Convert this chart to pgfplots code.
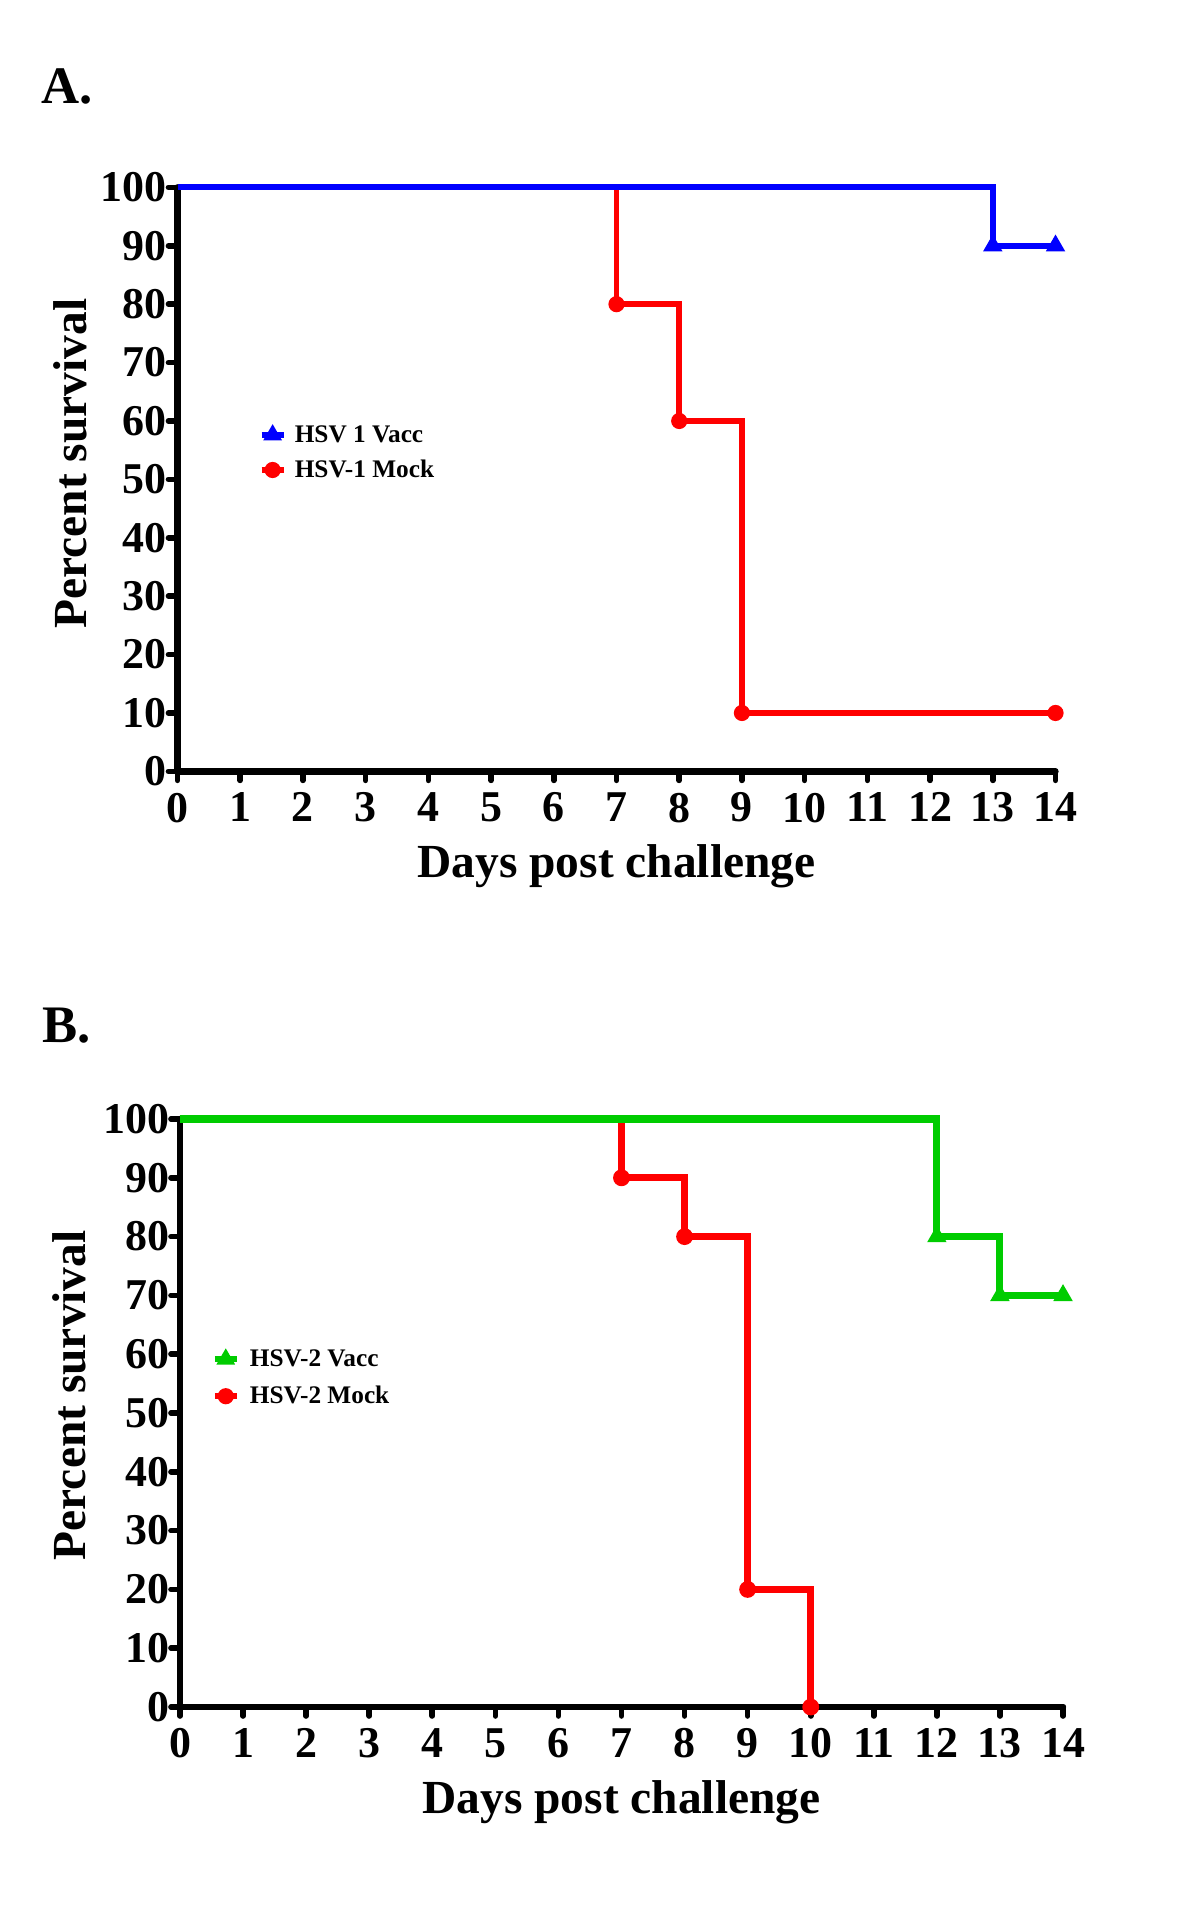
\documentclass[border=0pt]{standalone}
\usepackage{fontspec}
\setmainfont{Liberation Serif}
\usepackage{pgfplots}
\pgfplotsset{compat=1.18}
\definecolor{myblue}{RGB}{0,0,255}
\definecolor{myred}{RGB}{255,0,0}
\definecolor{mygreen}{RGB}{0,204,0}
\pgfplotsset{
 surv/.style={
  scale only axis, axis lines*=left,
  xmin=0, xmax=14, ymin=0, ymax=100,
  xtick={0,...,14}, ytick={0,10,...,100},
  tick align=outside, major tick length=0.09cm,
  every tick/.style={black, line width=1.6pt, line cap=round},
  axis line style={line width=1.8pt, line cap=round},
  tick label style={font=\fontsize{12.5}{14}\selectfont\bfseries},
  /pgf/number format/assume math mode=true,
  yticklabel style={inner xsep=0pt, xshift=-0.01cm},
  xticklabel style={yshift=0.0cm},
  label style={font=\fontsize{13.5}{15}\selectfont\bfseries},
  xlabel={Days post challenge}, ylabel={Percent survival},
  xlabel style={anchor=center, at={(axis description cs:0.5,0)}, yshift=-0.95cm},
  clip=false,
  legend cell align=left,
  legend image code/.code={\draw[##1,mark=none] (0cm,0cm) -- (0.22cm,0cm);
     \draw[##1] plot coordinates {(0.11cm,0cm)};},
 }
}
\begin{document}
\begin{tikzpicture}
\path (0,0) rectangle (12,19.2);
\node[font=\fontsize{15}{17}\selectfont\bfseries] at (0.67,18.34) {A.};
\node[font=\fontsize{15}{17}\selectfont\bfseries] at (0.67,8.94) {B.};
\begin{axis}[surv, at={(1.775cm,11.486cm)}, anchor=south west, width=8.78cm, height=5.84cm,
  ylabel style={anchor=center, at={(axis description cs:-0.122,0.527)}},
  legend style={draw=none, fill=none, at={(axis cs:1.28,54.6)}, anchor=west, inner sep=0pt,
   font=\fontsize{7.2}{8}\selectfont\bfseries,
   nodes={inner xsep=0pt, inner ysep=0.02cm, text height=0.2cm, text depth=0.05cm},
   row sep=0.06cm, /tikz/every odd column/.append style={column sep=0.08cm}}]
\addlegendimage{myblue, line width=1.7pt, mark=triangle*, mark size=2.7pt, mark options={line width=0.4pt}}
\addlegendentry{HSV 1 Vacc}
\addlegendimage{myred, line width=1.8pt, mark=*, mark size=2.1pt, mark options={line width=0.4pt}}
\addlegendentry{HSV-1 Mock}
\addplot[const plot, myred, line width=1.7pt, forget plot] coordinates {(0,100)(7,80)(8,60)(9,10)(14,10)};
\addplot[only marks, myred, mark=*, mark size=2.1pt, forget plot] coordinates {(7,80)(8,60)(9,10)(14,10)};
\addplot[const plot, myblue, line width=1.7pt, forget plot] coordinates {(0,100)(13,90)(14,90)};
\addplot[only marks, myblue, mark=triangle*, mark size=2.8pt, forget plot] coordinates {(13,90)(14,90)};
\end{axis}
\begin{axis}[surv, at={(1.80cm,2.13cm)}, anchor=south west, width=8.83cm, height=5.88cm,
  ylabel style={anchor=center, at={(axis description cs:-0.125,0.53)}},
  legend style={draw=none, fill=none, at={(axis cs:0.49,56.0)}, anchor=west, inner sep=0pt,
   font=\fontsize{7.2}{8}\selectfont\bfseries,
   nodes={inner xsep=0pt, inner ysep=0.02cm, text height=0.2cm, text depth=0.05cm},
   row sep=0.08cm, /tikz/every odd column/.append style={column sep=0.1cm}}]
\addlegendimage{mygreen, line width=1.8pt, mark=triangle*, mark size=2.7pt, mark options={line width=0.4pt}}
\addlegendentry{HSV-2 Vacc}
\addlegendimage{myred, line width=1.8pt, mark=*, mark size=2.1pt, mark options={line width=0.4pt}}
\addlegendentry{HSV-2 Mock}
\addplot[const plot, myred, line width=2pt, forget plot] coordinates {(0,100)(7,90)(8,80)(9,20)(10,0)};
\addplot[only marks, myred, mark=*, mark size=2.2pt, forget plot] coordinates {(7,90)(8,80)(9,20)(10,0)};
\addplot[const plot, mygreen, line width=2pt, forget plot] coordinates {(0,100)(12,80)(13,70)(14,70)};
\addplot[only marks, mygreen, mark=triangle*, mark size=2.8pt, forget plot] coordinates {(12,80)(13,70)(14,70)};
\end{axis}
\end{tikzpicture}
\end{document}
